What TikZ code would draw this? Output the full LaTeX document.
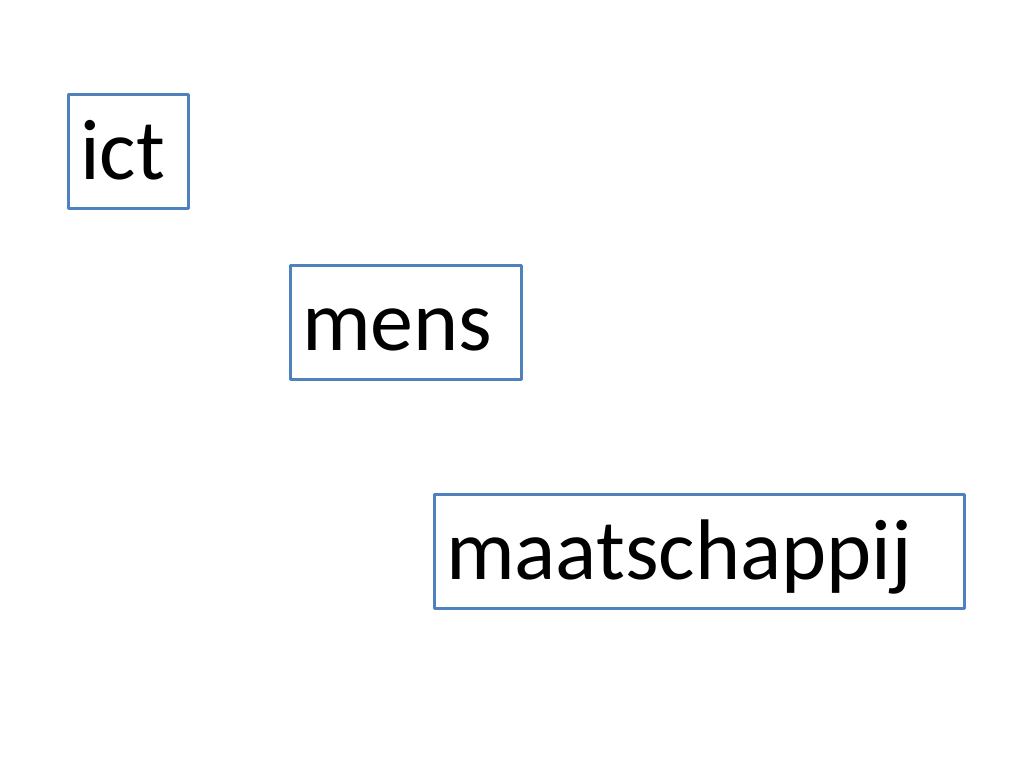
\documentclass[tikz,border=0pt]{standalone}
\usepackage{fontspec}
\setmainfont{Carlito}
\definecolor{boxblue}{RGB}{79,129,189}
\begin{document}
\begin{tikzpicture}[x=1pt,y=-1pt,
  wordbox/.style={draw=boxblue, line width=3pt, line join=round, anchor=north west,
    outer sep=0pt, inner xsep=12pt, inner ysep=0pt, text height=85pt, text depth=29pt, align=left,
    font=\fontsize{86}{86}\selectfont}]
\useasboundingbox (0,0) rectangle (1024,768);
\node[wordbox, text width=96pt] (ict) at (68,94) {ict};
\node[wordbox, text width=207pt] (mens) at (290,265) {mens};
\node[wordbox, text width=506pt] (maat) at (434,494) {maatschappij};
\end{tikzpicture}
\end{document}
